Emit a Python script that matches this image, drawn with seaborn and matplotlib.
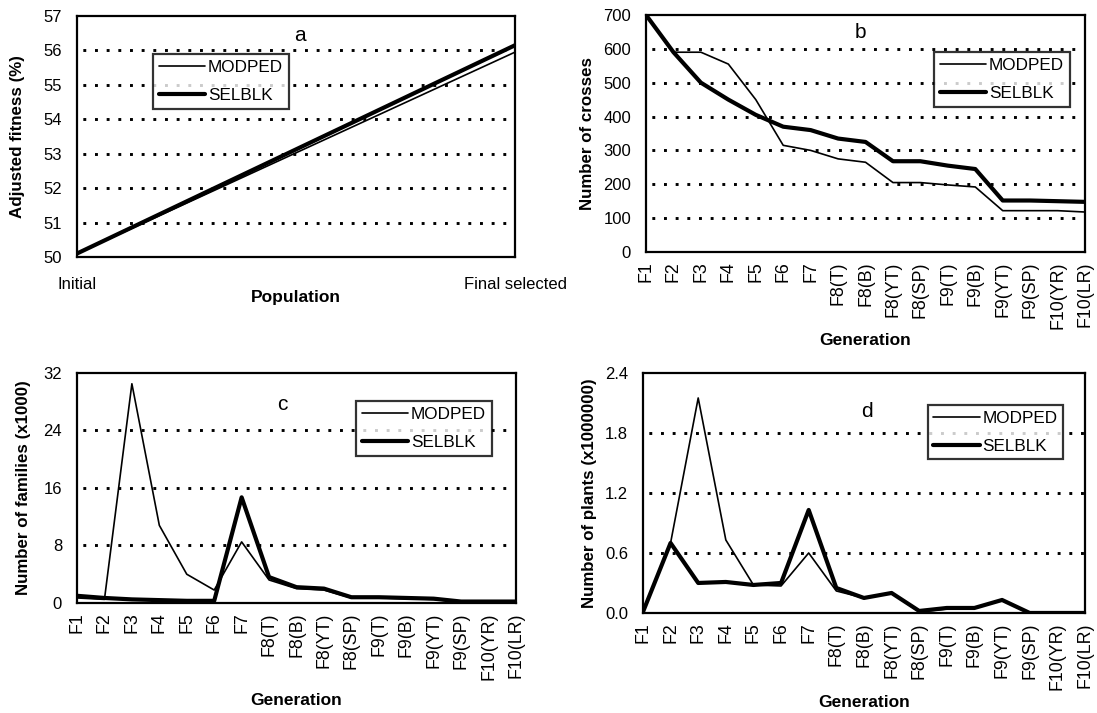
import pandas as pd
import matplotlib
matplotlib.use("Agg")
import matplotlib.pyplot as plt
import seaborn as sns

sns.set_style("white")
plt.rcParams['font.family'] = ['Liberation Sans', 'DejaVu Sans']
plt.rcParams['text.color'] = 'black'
plt.rcParams['axes.labelcolor'] = 'black'

# panel a
pop_labels = ['Initial', 'Final selected']
fit_modped = [50.1, 55.95]
fit_selblk = [50.1, 56.15]

# panels b-d
generations = ['F1', 'F2', 'F3', 'F4', 'F5', 'F6', 'F7', 'F8(T)', 'F8(B)', 'F8(YT)',
               'F8(SP)', 'F9(T)', 'F9(B)', 'F9(YT)', 'F9(SP)', 'F10(YR)', 'F10(LR)']
crosses_modped = [700, 590, 590, 555, 450, 315, 300, 275, 265, 205, 205, 198, 192, 122, 122, 122, 118]
crosses_selblk = [700, 590, 500, 450, 405, 370, 360, 335, 325, 268, 268, 255, 245, 152, 152, 150, 148]
families_modped = [0.7, 0.5, 30.5, 10.8, 4.0, 1.8, 8.5, 3.2, 2.0, 1.8, 0.7, 0.7, 0.6, 0.5, 0.1, 0.1, 0.1]
families_selblk = [1.0, 0.7, 0.5, 0.4, 0.3, 0.3, 14.7, 3.6, 2.2, 2.0, 0.8, 0.8, 0.7, 0.6, 0.2, 0.2, 0.2]
plants_modped = [0.01, 0.70, 2.15, 0.73, 0.28, 0.27, 0.60, 0.22, 0.15, 0.20, 0.01, 0.04, 0.05, 0.13, 0.0, 0.0, 0.0]
plants_selblk = [0.01, 0.70, 0.30, 0.31, 0.28, 0.30, 1.03, 0.25, 0.15, 0.20, 0.02, 0.05, 0.05, 0.13, 0.0, 0.0, 0.0]


def make_df(labels, modped, selblk):
    n = len(labels)
    return pd.DataFrame({
        'x': list(range(n)) * 2,
        'value': modped + selblk,
        'Method': ['MODPED'] * n + ['SELBLK'] * n,
    })


fig = plt.figure(figsize=(10.97, 7.13), dpi=100)
axes = {
    'a': fig.add_axes([0.0702, 0.6396, 0.3993, 0.3380]),
    'b': fig.add_axes([0.5889, 0.6466, 0.4002, 0.3324]),
    'c': fig.add_axes([0.0702, 0.1543, 0.4002, 0.3226]),
    'd': fig.add_axes([0.5861, 0.1403, 0.4029, 0.3366]),
}

panels = {
    'a': dict(labels=pop_labels, m=fit_modped, s=fit_selblk, ylim=(50, 57), yticks=range(50, 58),
              ylabel='Adjusted fitness (%)', xlabel='Population', fmt='{:.0f}',
              leg=(0.174, 0.842), leg_loc='upper left', title=(0.509, 0.921),
              ylab_x=-0.119, xlab_y=-0.137),
    'b': dict(labels=generations, m=crosses_modped, s=crosses_selblk, ylim=(0, 700),
              yticks=range(0, 800, 100), ylabel='Number of crosses', xlabel='Generation', fmt='{:.0f}',
              leg=(0.966, 0.844), leg_loc='upper right', title=(0.488, 0.924),
              ylab_x=-0.117, xlab_y=-0.342),
    'c': dict(labels=generations, m=families_modped, s=families_selblk, ylim=(0, 32),
              yticks=range(0, 40, 8), ylabel='Number of families (x1000)', xlabel='Generation', fmt='{:.0f}',
              leg=(0.945, 0.878), leg_loc='upper right', title=(0.467, 0.861),
              ylab_x=-0.105, xlab_y=-0.391),
    'd': dict(labels=generations, m=plants_modped, s=plants_selblk, ylim=(0, 2.4),
              yticks=[0, 0.6, 1.2, 1.8, 2.4], ylabel='Number of plants (x1000000)', xlabel='Generation',
              fmt='{:.1f}', leg=(0.951, 0.867), leg_loc='upper right', title=(0.507, 0.8375),
              ylab_x=-0.105, xlab_y=-0.342),
}

for key, p in panels.items():
    ax = axes[key]
    df = make_df(p['labels'], p['m'], p['s'])
    sns.lineplot(data=df, x='x', y='value', hue='Method', size='Method',
                 sizes={'MODPED': 1.2, 'SELBLK': 3.0},
                 palette={'MODPED': 'black', 'SELBLK': 'black'}, ax=ax, legend=True)
    n = len(p['labels'])
    ax.set_xlim(0, n - 1)
    ax.set_ylim(*p['ylim'])
    ax.set_xticks(range(n))
    yt = list(p['yticks'])
    ax.set_yticks(yt)
    ax.set_yticklabels([p['fmt'].format(v) for v in yt], fontsize=12)
    if key == 'a':
        ax.set_xticklabels(p['labels'], fontsize=12)
        ax.tick_params(axis='x', pad=11)
    else:
        ax.set_xticklabels(p['labels'], rotation=90, fontsize=12.8)
        ax.tick_params(axis='x', pad=3)
    # dotted gridlines at the inner ticks
    for yv in yt[1:-1]:
        ax.axhline(yv, color='black', linestyle=(2, (1.0, 3.0)), lw=2.1, zorder=0)
    for sp in ax.spines.values():
        sp.set_visible(True)
        sp.set_color('black')
        sp.set_linewidth(1.6)
    ax.tick_params(axis='both', direction='inout', length=7.5, width=1.3, colors='black')
    ax.tick_params(axis='y', pad=7)
    ax.set_ylabel(p['ylabel'], fontsize=12.2, fontweight='bold')
    ax.set_xlabel(p['xlabel'], fontsize=12.5, fontweight='bold')
    ax.yaxis.set_label_coords(p['ylab_x'], 0.5)
    ax.xaxis.set_label_coords(0.5, p['xlab_y'])
    ax.text(p['title'][0], p['title'][1], key, transform=ax.transAxes, fontsize=15,
            ha='center', va='center')
    handles, labs = ax.get_legend_handles_labels()
    leg = ax.legend(handles, labs, loc=p['leg_loc'], bbox_to_anchor=p['leg'], frameon=True,
                    fancybox=False, edgecolor='black', fontsize=12.3, handlelength=2.7,
                    handletextpad=0.15, borderpad=0.35, labelspacing=0.74, borderaxespad=0)
    leg.get_frame().set_linewidth(1.6)

fig.savefig('out.png', dpi=100, facecolor='white')
